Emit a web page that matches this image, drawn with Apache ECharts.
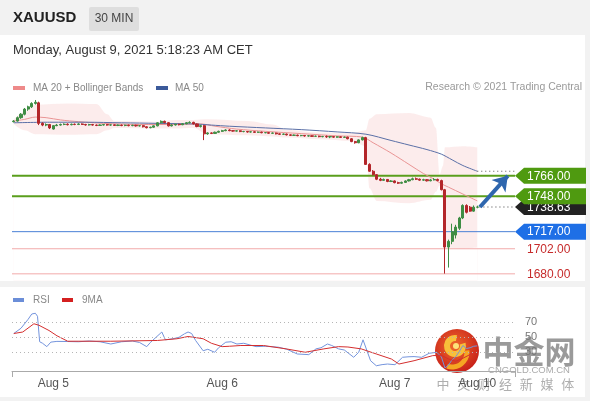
<!DOCTYPE html>
<html><head><meta charset="utf-8">
<script src="https://cdn.jsdelivr.net/npm/echarts@6/dist/echarts.min.js"></script>
<style>
html,body{margin:0;padding:0;background:#f2f2f2;width:590px;height:401px;overflow:hidden;position:relative;font-family:"Liberation Sans",Arial,sans-serif;}
.panel{position:absolute;background:#fff;left:0;width:585px;}
#c{position:absolute;left:0;top:0;width:590px;height:401px;}
</style>
</head><body>
<div class="panel" style="top:35px;height:246px"></div>
<div class="panel" style="top:287px;height:110px"></div>
<div id="c"></div>
<script>
// ---------- DATA ----------
const symbolName = 'XAUUSD';
const timeframe = '30 MIN';
const dateText = 'Monday, August 9, 2021 5:18:23 AM CET';
const slotCount = 140; // 130 candles + empty slots on the right

// candles: [open, close, low, high]
const candles = [
[1813.5,1814,1812.8,1814.8],[1814,1817,1813.5,1818],[1817,1820,1816,1821],[1820,1824.5,1819,1825.5],
[1824.5,1826.5,1823,1827.5],[1826.5,1829.5,1825.5,1830.5],[1829.5,1830.5,1828.5,1832.5],[1830,1812,1810.5,1831],
[1812,1810.5,1809.5,1813],[1810.5,1811,1809.5,1812],[1811,1808,1807,1811.5],[1807,1810,1806.5,1810.5],
[1810,1810.5,1809.5,1811.5],[1810.5,1811,1810,1811.8],[1811,1811.3,1810.4,1812],[1811.3,1810.8,1810.2,1812],
[1810.8,1811.2,1810.3,1811.8],[1811.2,1811,1810.4,1811.9],[1811,1811.5,1810.5,1812.1],[1811.5,1811,1810.6,1812],
[1811,1810.6,1810,1811.6],[1810.6,1811,1810.1,1811.6],[1811,1810.5,1810,1811.5],[1810.5,1810.2,1809.6,1811],
[1810.2,1810.6,1809.8,1811.2],[1810.6,1810.9,1810.1,1811.5],[1810.9,1810.5,1810,1811.4],[1810.5,1810.7,1809.9,1811.2],
[1810.7,1810.2,1809.7,1811.1],[1810.2,1810.5,1809.6,1811],[1810.5,1810.1,1809.5,1811],[1810.1,1810.4,1809.5,1810.9],
[1810.4,1810,1809.4,1810.9],[1810,1810.3,1809.5,1810.8],[1810.3,1809.8,1809.2,1810.8],[1809.8,1810,1809.2,1810.6],
[1810,1809,1808.4,1810.4],[1809,1808.2,1807.6,1809.4],[1808.2,1808.6,1807.7,1809.1],[1808.6,1809.8,1808.2,1810.2],
[1809.8,1812.5,1809.4,1813],[1812.5,1813.8,1812,1814.6],[1813.8,1812.6,1812.1,1814.4],[1812.6,1809.8,1809.2,1813],
[1809.8,1810.6,1809.3,1811.2],[1810.6,1811.2,1810.1,1811.8],[1811.2,1810.8,1810.2,1811.7],[1810.8,1811.6,1810.4,1812.2],
[1811.6,1812.6,1811.2,1813.2],[1812.6,1812.9,1812,1813.8],[1812.9,1811.5,1811,1813.4],[1811.5,1809.2,1808.6,1812],
[1809.2,1810,1808.4,1810.6],[1810,1802.8,1797.3,1810.5],[1802.8,1803.6,1802,1804.2],[1803.6,1803.2,1802.6,1804.1],
[1803.2,1804.2,1802.8,1804.8],[1804.2,1805,1803.8,1805.6],[1805,1805.6,1804.5,1806.3],[1805.6,1806.2,1805.1,1806.8],
[1806.2,1805.6,1805.1,1806.8],[1805.6,1805.2,1804.7,1806],[1805.2,1805.5,1804.8,1806],[1805.5,1804.8,1804.3,1805.9],
[1804.8,1804.9,1804.2,1805.4],[1804.9,1804.4,1803.9,1805.3],[1804.4,1804.6,1803.9,1805.1],[1804.6,1804.1,1803.6,1805],
[1804.1,1804.3,1803.6,1804.8],[1804.3,1803.8,1803.3,1804.7],[1803.8,1803.9,1803.3,1804.4],[1803.9,1803.3,1802.8,1804.3],
[1803.3,1803.5,1802.9,1804],[1803.5,1802.8,1802.3,1803.9],[1802.8,1802.4,1801.8,1803.2],[1802.4,1802.6,1801.8,1803.1],
[1802.6,1801.9,1801.4,1803],[1801.9,1801.5,1800.9,1802.3],[1801.5,1801.7,1801,1802.2],[1801.7,1801.2,1800.7,1802.1],
[1801.2,1801.4,1800.7,1801.9],[1801.4,1800.9,1800.4,1801.8],[1800.9,1801.1,1800.4,1801.6],[1801.1,1800.6,1800.1,1801.5],
[1800.6,1800.8,1800.1,1801.3],[1800.8,1800.3,1799.8,1801.2],[1800.3,1800.5,1799.8,1801],[1800.5,1800.1,1799.3,1801.4],
[1800.1,1800.4,1799,1800.9],[1800.4,1799.9,1799.4,1800.8],[1799.9,1800.2,1799.4,1800.7],[1800.2,1799.7,1799.2,1800.6],
[1799.7,1799.9,1799.2,1800.4],[1799.9,1798.5,1798,1800.3],[1798.5,1796,1795.5,1799],[1796,1795,1794.2,1796.6],
[1795,1797.5,1794.6,1798],[1797.5,1799.5,1797,1800.3],[1799.5,1776,1775.5,1800.2],[1776,1770,1769.5,1777],
[1770,1767,1766.3,1771],[1767,1763,1762.2,1767.5],[1763,1762,1761.3,1764.2],[1762,1762.8,1761.6,1763.6],
[1762.8,1761,1760.4,1763.2],[1761,1761.5,1760.5,1762.2],[1761.5,1760,1759.4,1762],[1760,1759.5,1758.8,1760.8],
[1759.5,1760.2,1759,1760.9],[1760.2,1761.5,1759.8,1762],[1761.5,1762.6,1761,1763.3],[1762.6,1763.4,1762.1,1764.4],
[1763.4,1763,1762.3,1764.5],[1763,1762.2,1761.7,1763.6],[1762.2,1762.6,1761.6,1763.4],[1762.6,1761.6,1761,1763.1],
[1761.6,1762.4,1761.2,1763.3],[1762.4,1762.8,1761.9,1764],[1762.8,1761.8,1761.2,1763.5],[1761.8,1753.8,1753.2,1762.6],
[1753.8,1703.5,1680.2,1754.5],[1703.5,1708.5,1685.5,1710],[1708.5,1717,1706,1724],[1714,1721,1711,1723],
[1720,1729,1718.5,1730],[1729,1740,1728,1741],[1740,1734,1733,1741],[1738.5,1735,1734.5,1739.5],
[1735,1738.5,1734.5,1740],[1738.5,1738.63,1737.5,1739.8]
];

// moving averages: [candle index, price]
const ma20 = [[0,1814],[3,1815.5],[6,1817.5],[9,1817],[13,1815],[18,1813.5],[25,1812],[35,1811],[45,1811],[52,1811.5],[56,1809.5],[62,1807],[70,1805],[80,1803],[90,1801],[97,1800],[100,1795],[105,1786],[110,1776],[114,1768],[117,1763],[119,1759],[121,1756],[125,1750],[129,1744]];
const ma50 = [[0,1812.5],[10,1813],[20,1813],[30,1812.5],[40,1812],[50,1811.5],[55,1810.5],[60,1809.5],[70,1808],[80,1806.5],[90,1804.5],[98,1802.5],[105,1797],[110,1793],[115,1789],[119,1785],[122,1780],[125,1775],[129,1770]];

// Bollinger bands: [candle index, price]
const bandUpper = [[0,1815.5],[3,1822],[6,1828.5],[15,1829.5],[23,1829],[26,1820],[28,1814],[40,1813.5],[45,1815],[50,1815],[54,1815.5],[65,1814],[72,1811],[76,1806.5],[85,1804],[94,1803.5],[98,1806],[99,1816],[101,1820],[110,1821],[116,1817],[117.5,1808],[118.5,1767],[119.5,1775],[120,1791],[125,1792],[129,1791]];
const bandLower = [[0,1811.5],[3,1806],[6,1802.5],[15,1802],[23,1802.5],[26,1806],[28,1808],[40,1807.5],[45,1807.5],[50,1808],[54,1802.5],[65,1801.5],[72,1800.5],[76,1799.5],[85,1798],[94,1796.5],[98,1792],[99,1755],[101,1744],[110,1742],[116,1745],[117.5,1752],[118.5,1757.5],[119.5,1745],[120,1703],[125,1702],[129,1703]];

// key levels
const levels = [1766, 1748, 1717, 1702, 1680];
const levelRoles = ['resistance','resistance','pivot','support','support'];

// RSI panel: [candle index, value]
const rsi = [[0,55],[2,62],[4,74],[5,81],[6,82],[6.6,78],[7.2,44],[8,42],[9.2,37.5],[10.3,43.5],[12,44.5],[15,44.3],[18,44],[21,45],[24,44],[27,41],[30,44],[33,45],[35,43],[37,37.5],[38,43],[41.2,57],[42.2,46.6],[44.3,48],[46,50],[47.5,54.6],[48.5,57],[49.5,55],[50.6,45.7],[52.7,32],[54,34],[55.9,30],[57,36],[59,43.4],[60.5,44],[62.1,41],[64,42],[67.4,37.5],[70,38],[73.7,36.7],[76,34],[78.9,27.7],[82.1,26.8],[84.1,34.5],[85.5,36],[87.3,41],[88.5,39],[90.4,34.5],[92,33],[94.6,23.3],[96,30],[97.2,46.6],[99.3,18.7],[100.9,12],[102.5,13.5],[104,14.3],[106.1,13.4],[108.2,23.3],[110,24],[111.4,24.2],[113.5,23.3],[115.6,28.6],[117.7,29.9],[119,24],[120,9],[121,13],[122,20],[123,24],[124,31],[125,39],[126,35],[127,36],[128,38],[129,38.5]];
const rsiMa = [[0,55],[2.5,57],[5.6,68],[7,66],[9.8,59],[12,52],[15,44.7],[27,44.7],[40,45.7],[45.4,48],[48.5,51],[50,50],[52.7,48],[55,42],[58,37.5],[60,38],[63.2,39],[69.5,39],[75.8,34.5],[81.1,30],[86.3,34.5],[90.4,37.5],[93,37],[96.7,34.5],[100.9,27.7],[105.1,21],[107.2,14.3],[111.4,18.7],[116.6,25.5],[119,26],[121,21],[123,18],[125,22],[127,27],[129,31]];
const rsiLevels = [70, 50, 30];

// x tick labels
const dayLabels = ['Aug 5','Aug 6','Aug 7','Aug 10'];
const dayLabelIndex = [11, 58, 106, 129];

// ---------- CHART ----------
const FONT = '"Liberation Sans", Arial, sans-serif';
const cats = [];
for (let i = 0; i < slotCount; i++) {
  const k = dayLabelIndex.indexOf(i);
  cats.push(k >= 0 ? dayLabels[k] : '');
}
const lastIdx = candles.length - 1;
const lastClose = candles[lastIdx][1];
const lastMa50 = ma50[ma50.length - 1];

const roleStyle = {
  resistance: {line:'#5a9e1c', lw:2, box:'#4f9a10', text:'#fff'},
  pivot: {line:'#4a80d6', lw:1, box:'#1e6fe6', text:'#fff'},
  support: {line:'#f2aaaa', lw:1, box:null, text:'#c62b2b'},
  current: {line:null, lw:0, box:'#222', text:'#fff'}
};
const labelData = [[-1, lastClose, 'current']].concat(levels.map((v,i)=>[i, v, levelRoles[i]]));

function renderLevel(params, api) {
  const d = labelData[params.dataIndex];
  const price = d[1];
  const st = roleStyle[d[2]];
  const cs = params.coordSys;
  const y = api.coord([0, price])[1];
  const x0 = cs.x + cs.width;
  const ch = [];
  if (st.line) ch.push({type:'line', shape:{x1:cs.x, y1:y, x2:x0, y2:y}, style:{stroke:st.line, lineWidth:st.lw}});
  if (st.box) ch.push({type:'polygon', shape:{points:[[x0,y],[x0+9,y-8],[x0+71,y-8],[x0+71,y+8],[x0+9,y+8]]}, style:{fill:st.box}});
  ch.push({type:'text', x:x0+12, y:y+0.5, style:{text:price.toFixed(2), fill:st.text, fontSize:12, fontFamily:FONT, verticalAlign:'middle', align:'left'}});
  return {type:'group', children:ch};
}

const chart = echarts.init(document.getElementById('c'), null, {renderer:'canvas'});
const wmChars = ['中','文','财','经','新','媒','体'];
const option = {
  animation:false,
  backgroundColor:'transparent',
  textStyle:{fontFamily:FONT},
  grid:[
    {left:12, top:91.44, width:503, height:189.24, containLabel:false, outerBoundsMode:'none'},
    {left:12, top:299.75, width:503, height:71.25, containLabel:false, outerBoundsMode:'none'}
  ],
  xAxis:[
    {type:'category', gridIndex:0, data:cats, boundaryGap:true, show:false},
    {type:'value', gridIndex:0, min:-0.5, max:slotCount-0.5, show:false},
    {type:'category', gridIndex:1, data:cats, boundaryGap:true,
      axisLine:{show:true, lineStyle:{color:'#aaa', width:1}},
      axisTick:{show:true, interval:(i)=>i===0, length:6, lineStyle:{color:'#aaa'}},
      axisLabel:{show:true, interval:0, color:'#555', fontSize:12, margin:7, fontFamily:FONT},
      splitLine:{show:false}},
    {type:'value', gridIndex:1, min:-0.5, max:slotCount-0.5, show:false}
  ],
  yAxis:[
    {type:'value', gridIndex:0, min:1674, max:1840, show:false, splitLine:{show:false}},
    {type:'value', gridIndex:1, min:5, max:100, show:false, splitLine:{show:false}}
  ],
  series:[
    {name:'bandUpper', type:'line', xAxisIndex:1, yAxisIndex:0, data:bandUpper, smooth:0.35, smoothMonotone:'x', showSymbol:false, silent:true,
      lineStyle:{width:0, opacity:0}, areaStyle:{color:'rgba(240,140,140,0.24)', origin:'start'}, z:1},
    {name:'bandLower', type:'line', xAxisIndex:1, yAxisIndex:0, data:bandLower, smooth:0.35, smoothMonotone:'x', showSymbol:false, silent:true,
      lineStyle:{width:0, opacity:0}, areaStyle:{color:'#ffffff', opacity:1, origin:'start'}, z:2},
    {name:'levels', type:'custom', xAxisIndex:1, yAxisIndex:0, data:labelData.map(d=>[d[0], d[1]]), renderItem:renderLevel, clip:false, silent:true, z:3},
    {name:'MA 20 + Bollinger Bands', type:'line', xAxisIndex:1, yAxisIndex:0, data:ma20, smooth:0.3, showSymbol:false, lineStyle:{color:'#e99494', width:1}, z:4},
    {name:'MA 50', type:'line', xAxisIndex:1, yAxisIndex:0, data:ma50, smooth:0.3, showSymbol:false, lineStyle:{color:'#5a6fa6', width:1}, z:4},
    {name:'ma50ext', type:'line', xAxisIndex:1, yAxisIndex:0, data:[lastMa50, [slotCount-0.5, lastMa50[1]]], showSymbol:false, lineStyle:{color:'#555', width:1, type:[1,3]}, z:4},
    {name:'priceext', type:'line', xAxisIndex:1, yAxisIndex:0, data:[[lastIdx+0.6, lastClose], [slotCount-0.5, lastClose]], showSymbol:false, lineStyle:{color:'#444', width:1, type:[1,3]}, z:4},
    {name:'XAUUSD', type:'candlestick', xAxisIndex:0, yAxisIndex:0, data:candles, barWidth:2.6,
      itemStyle:{color:'#3f8d44', color0:'#b3262a', borderColor:'#3f8d44', borderColor0:'#b3262a', borderWidth:1}, z:5},
    {name:'projection', type:'lines', coordinateSystem:'cartesian2d', xAxisIndex:1, yAxisIndex:0, polyline:false,
      symbol:['none','arrow'], symbolSize:14,
      lineStyle:{color:'#2e66ae', width:4, opacity:1, curveness:0},
      data:[{coords:[[lastIdx+0.75, lastClose],[slotCount-2.5, levels[0]]]}], z:6},
    {name:'RSI', type:'line', xAxisIndex:3, yAxisIndex:1, data:rsi, showSymbol:false, lineStyle:{color:'#7393dc', width:1}, z:4,
      markLine:{silent:true, symbol:'none', data:rsiLevels.map(v=>({yAxis:v})),
        lineStyle:{color:'#b5b5b5', type:[1,3], width:1},
        label:{show:true, position:'end', distance:10, formatter:(p)=>String(p.value), color:'#777', fontSize:11, fontFamily:FONT}}},
    {name:'9MA', type:'line', xAxisIndex:3, yAxisIndex:1, data:rsiMa, showSymbol:false, lineStyle:{color:'#d42e2e', width:1}, z:4}
  ],
  graphic:{elements:[
    {type:'text', x:13, y:18, style:{text:symbolName, fill:'#222', fontSize:15, fontWeight:'bold', fontFamily:FONT, verticalAlign:'middle'}},
    {type:'rect', shape:{x:89, y:7, width:50, height:24, r:2}, style:{fill:'#dedede'}},
    {type:'text', x:114, y:19, style:{text:timeframe, fill:'#444', fontSize:12, fontFamily:FONT, align:'center', verticalAlign:'middle'}},
    {type:'text', x:13, y:50, style:{text:dateText, fill:'#333', fontSize:13, fontFamily:FONT, verticalAlign:'middle'}},
    {type:'rect', shape:{x:13, y:86, width:12, height:4}, style:{fill:'#ee8a8a'}},
    {type:'text', x:33, y:88, style:{text:'MA 20 + Bollinger Bands', fill:'#888', fontSize:10, fontFamily:FONT, verticalAlign:'middle'}},
    {type:'rect', shape:{x:156, y:86, width:12, height:4}, style:{fill:'#3b5a9a'}},
    {type:'text', x:175, y:88, style:{text:'MA 50', fill:'#888', fontSize:10, fontFamily:FONT, verticalAlign:'middle'}},
    {type:'text', x:582, y:87, style:{text:'Research \u00a9 2021 Trading Central', fill:'#9a9a9a', fontSize:10.5, fontFamily:FONT, align:'right', verticalAlign:'middle'}},
    {type:'rect', shape:{x:13, y:298, width:11, height:4}, style:{fill:'#6b8ed8'}},
    {type:'text', x:33, y:300, style:{text:'RSI', fill:'#888', fontSize:10, fontFamily:FONT, verticalAlign:'middle'}},
    {type:'rect', shape:{x:62, y:298, width:11, height:4}, style:{fill:'#d42020'}},
    {type:'text', x:82, y:300, style:{text:'9MA', fill:'#888', fontSize:10, fontFamily:FONT, verticalAlign:'middle'}},
    // watermark
    {type:'group', z:100, children:[
      {type:'circle', shape:{cx:457, cy:351, r:22}, style:{fill:{type:'radial', x:0.45, y:0.4, r:0.6, colorStops:[{offset:0,color:'#f06a2c'},{offset:1,color:'#c8221a'}]}}},
      {type:'arc', shape:{cx:455, cy:346, r:8, startAngle:-0.3, endAngle:4.9}, style:{stroke:'#f8bf3a', lineWidth:6, fill:null}},
      {type:'arc', shape:{cx:452, cy:352, r:15, startAngle:-0.1, endAngle:1.9}, style:{stroke:'#f5a623', lineWidth:5, fill:null}},
      {type:'circle', shape:{cx:456, cy:346, r:3}, style:{fill:'#fde27a'}},
      {type:'text', x:529, y:351, style:{text:'中金网', fill:'rgba(140,140,140,0.88)', fontSize:31, fontWeight:'bold', fontFamily:'"Noto Sans CJK SC", sans-serif', align:'center', verticalAlign:'middle'}},
      {type:'text', x:529, y:370, style:{text:'CNGOLD.COM.CN', fill:'rgba(160,160,160,0.9)', fontSize:9.5, fontFamily:FONT, align:'center', verticalAlign:'middle'}}
    ].concat(wmChars.map((ch,k)=>({type:'text', x:443 + k*20.8, y:384, style:{text:ch, fill:'rgba(160,160,160,0.85)', fontSize:13, fontFamily:'"Noto Sans CJK SC", sans-serif', align:'center', verticalAlign:'middle'}})))}
  ]}
};
chart.setOption(option);
</script>
</body></html>
